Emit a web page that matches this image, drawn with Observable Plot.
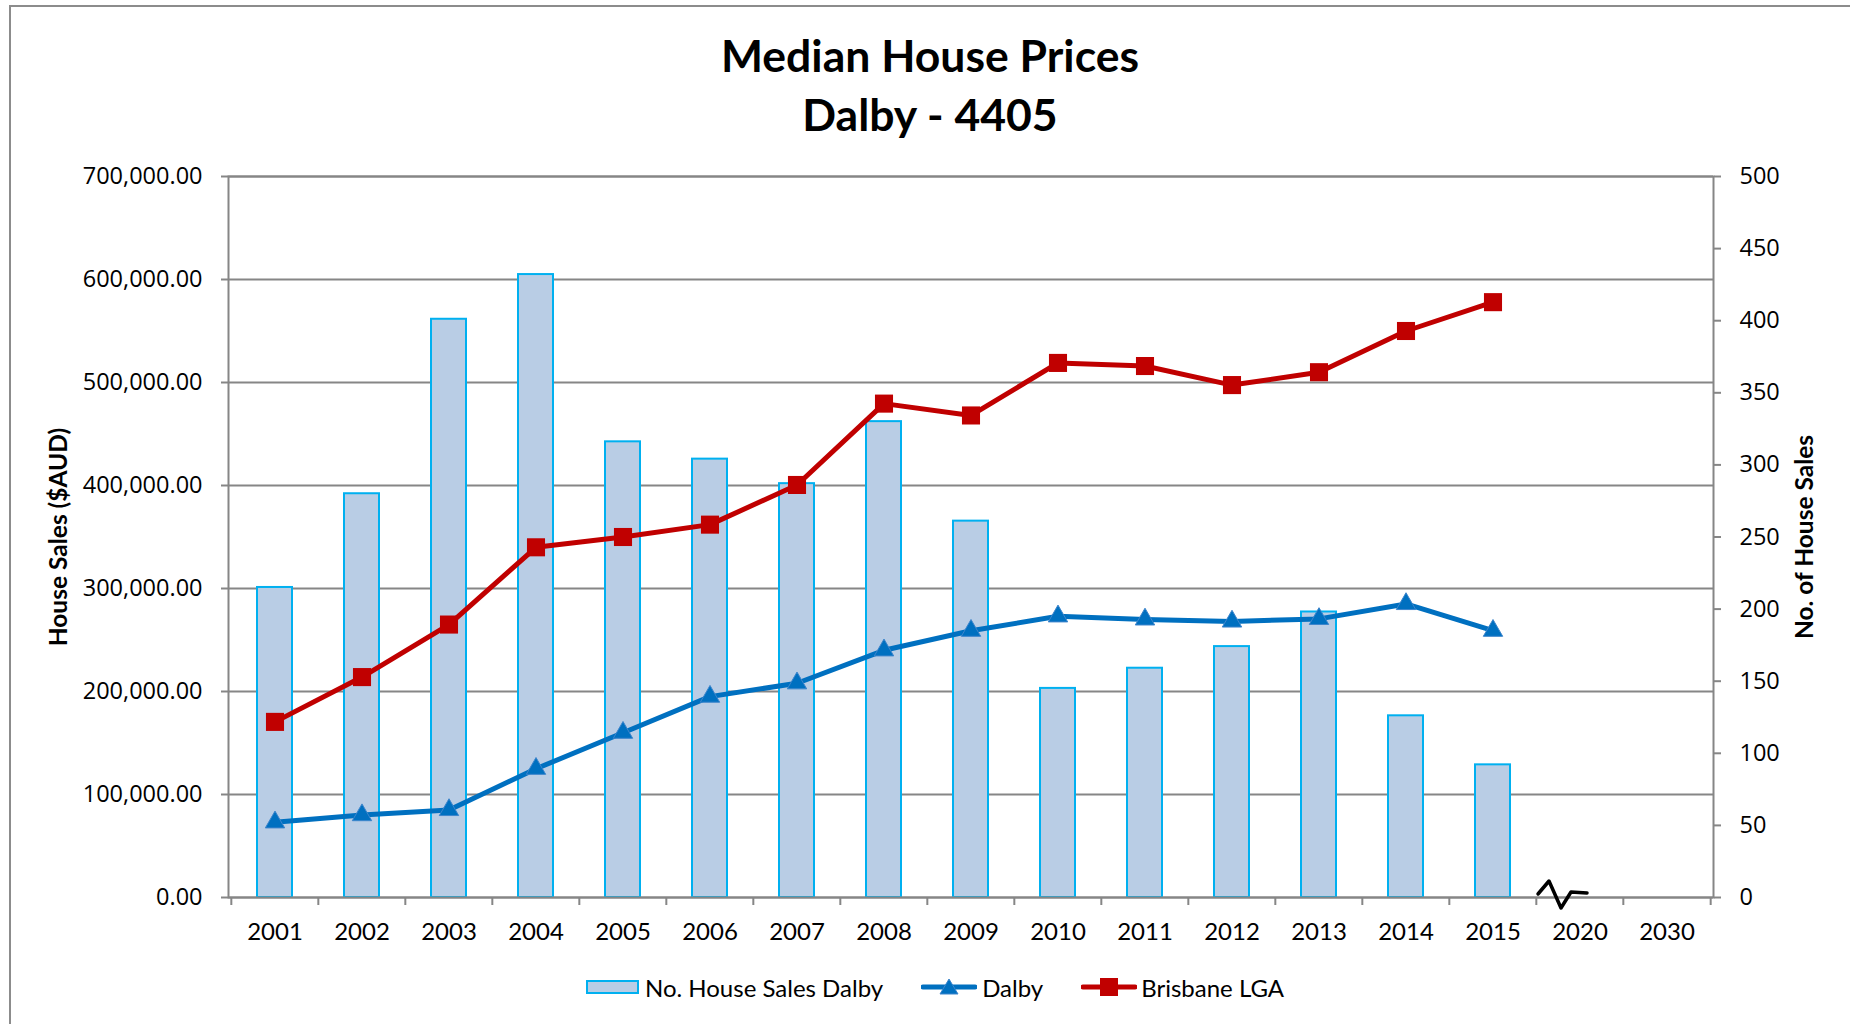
<!DOCTYPE html>
<html>
<head>
<meta charset="utf-8">
<script src="https://cdn.jsdelivr.net/npm/d3@7"></script>
<script src="https://cdn.jsdelivr.net/npm/@observablehq/plot@0.6"></script>
<style>
  html, body { margin: 0; padding: 0; background: #fff; width: 1850px; height: 1024px; overflow: hidden; }
  #frame { position: absolute; left: 9px; top: 5px; width: 1900px; height: 1100px;
           border-left: 2px solid #8c8c8c; border-top: 2px solid #8c8c8c; pointer-events: none; }
  #title { height: 150px; box-sizing: border-box; padding-top: 25px; padding-left: 10px; text-align: center;
           font-family: Lato, sans-serif; font-weight: 700; font-size: 44.5px; line-height: 59px; color: #000; }
  #chart svg { display: block; }
  #legend { height: 64px; box-sizing: border-box; padding-left: 20px; padding-bottom: 10px;
            display: flex; align-items: center; justify-content: center;
            font-family: Lato, sans-serif; font-size: 24px; color: #000; }
  .item { display: flex; align-items: center; }
  .swatch { width: 49px; height: 10px; background: #B9CDE5; border: 2px solid #00B0F0; margin-right: 6px; }
  .gap { width: 38px; }
</style>
</head>
<body>
<div id="frame"></div>
<div id="title">Median House Prices<br>Dalby - 4405</div>
<div id="chart"></div>
<div id="legend">
  <div class="item"><div class="swatch"></div><span>No. House Sales Dalby</span></div>
  <div class="gap"></div>
  <div class="item">
    <svg width="56" height="22" style="margin-right:5px"><line x1="2" y1="11" x2="54" y2="11" stroke="#0070C0" stroke-width="5" stroke-linecap="round"/><path d="M28,3 L37,18 L19,18 Z" fill="#0070C0" stroke="#3d85cc" stroke-width="1"/></svg>
    <span>Dalby</span>
  </div>
  <div class="gap"></div>
  <div class="item">
    <svg width="56" height="22" style="margin-right:4px"><line x1="2" y1="11" x2="54" y2="11" stroke="#C00000" stroke-width="5" stroke-linecap="round"/><rect x="19" y="2" width="18" height="18" fill="#C00000"/></svg>
    <span>Brisbane LGA</span>
  </div>
</div>
<script>
// ---- data ----
const years = ["2001","2002","2003","2004","2005","2006","2007","2008","2009","2010","2011","2012","2013","2014","2015","2020","2030"];
const salesYears = ["2001","2002","2003","2004","2005","2006","2007","2008","2009","2010","2011","2012","2013","2014","2015"];
const houseSalesDalby = [215, 280, 401, 432, 316, 304, 287, 330, 261, 145, 159, 174, 198, 126, 92];
const dalbyPrice = [73000, 80000, 85000, 125000, 160000, 195000, 208000, 240000, 259000, 273000, 270000, 268000, 270500, 285000, 259000];
const brisbanePrice = [170500, 214000, 265000, 340000, 350000, 362000, 400500, 479500, 468000, 519000, 516000, 497500, 510000, 550000, 578000];
const priceTicks = [0, 100000, 200000, 300000, 400000, 500000, 600000, 700000];
const salesTicks = [0, 50, 100, 150, 200, 250, 300, 350, 400, 450, 500];
const priceMax = 700000;
const salesMax = 500;

const k = priceMax / salesMax;
const rows = salesYears.map((year, i) => ({
  year, sales: houseSalesDalby[i], dalby: dalbyPrice[i], brisbane: brisbanePrice[i]
}));

const W = 1850, H = 810, mL = 228, mR = 137, mT = 26, mB = 63;
const step = (W - mL - mR) / years.length;
const grey = "#868686";

// broken-axis squiggle drawn next to the 2020 category, placed through the plot's scales
function breakMark(index, scales, values, dimensions) {
  const x = scales.x, y = scales.y;
  if (typeof x !== "function" || typeof y !== "function") return null;
  let b = x("2020");
  if ((x("2001") - dimensions.marginLeft) > step / 4) b -= step / 2;
  const y0 = y(0);
  const rel = [[2, -3], [13, -16], [25, 11], [35, -5], [51, -4]];
  const g = d3.create("svg:path")
    .attr("d", d3.line()(rel.map(([dx, dy]) => [b + dx, y0 + dy])))
    .attr("fill", "none").attr("stroke", "#000").attr("stroke-width", 3.5)
    .attr("stroke-linejoin", "round").attr("stroke-linecap", "round");
  return g.node();
}

const tickFont = "'Open Sans', sans-serif";
const chart = Plot.plot({
  width: W, height: H,
  marginLeft: mL, marginRight: mR, marginTop: mT, marginBottom: mB,
  style: { fontFamily: tickFont, fontSize: "23.5px", color: "#000", background: "#fff", overflow: "visible" },
  x: { type: "band", domain: years, padding: 0, axis: null },
  y: { domain: [0, priceMax], axis: null },
  marks: [
    Plot.gridY(priceTicks, { stroke: grey, strokeOpacity: 1, strokeWidth: 2 }),
    Plot.barY(rows, { x: "year", y: d => d.sales * k, fill: "#B9CDE5", stroke: "#00B0F0", strokeWidth: 2, insetLeft: 26, insetRight: 26 }),
    Plot.frame({ stroke: grey, strokeWidth: 2 }),
    Plot.ruleX(years, { x: d => d, y1: 0, y2: 0, insetBottom: -8, dx: -step / 2, stroke: grey, strokeWidth: 2 }),
    Plot.ruleX([years[years.length - 1]], { x: d => d, y1: 0, y2: 0, insetBottom: -8, dx: step / 2, stroke: grey, strokeWidth: 2 }),
    Plot.axisY({ anchor: "left", ticks: priceTicks, tickFormat: d3.format(",.2f"), tickSize: 7, tickPadding: 19,
                 stroke: grey, strokeWidth: 2, fontFamily: tickFont, fontSize: 23.5, label: null }),
    Plot.axisY({ anchor: "right", ticks: salesTicks.map(s => s * k), tickFormat: d => String(Math.round(d / k)),
                 tickSize: 7, tickPadding: 19, stroke: grey, strokeWidth: 2, fontFamily: tickFont, fontSize: 23.5, label: null }),
    Plot.axisX({ tickSize: 0, tickPadding: 25, fontFamily: "Lato, sans-serif", fontSize: 24, label: null }),
    Plot.line(rows, { x: "year", y: "brisbane", stroke: "#C00000", strokeWidth: 5 }),
    Plot.dot(rows, { x: "year", y: "brisbane", symbol: "square", r: 10.2, fill: "#C00000", stroke: "none" }),
    Plot.line(rows, { x: "year", y: "dalby", stroke: "#0070C0", strokeWidth: 5 }),
    Plot.dot(rows, { x: "year", y: "dalby", symbol: "triangle", r: 7.2, fill: "#0070C0", stroke: "#3d85cc", strokeWidth: 1 }),
    Plot.text(["House Sales ($AUD)"], { frameAnchor: "left", textAnchor: "middle", dx: -169, rotate: -90, fontFamily: "Lato, sans-serif", fontWeight: "bold", fontSize: 24.5, fill: "#000" }),
    Plot.text(["No. of House Sales"], { frameAnchor: "right", textAnchor: "middle", dx: 92, rotate: -90, fontFamily: "Lato, sans-serif", fontWeight: "bold", fontSize: 24.5, fill: "#000" }),
    breakMark
  ]
});
document.getElementById("chart").appendChild(chart);
</script>
</body>
</html>
